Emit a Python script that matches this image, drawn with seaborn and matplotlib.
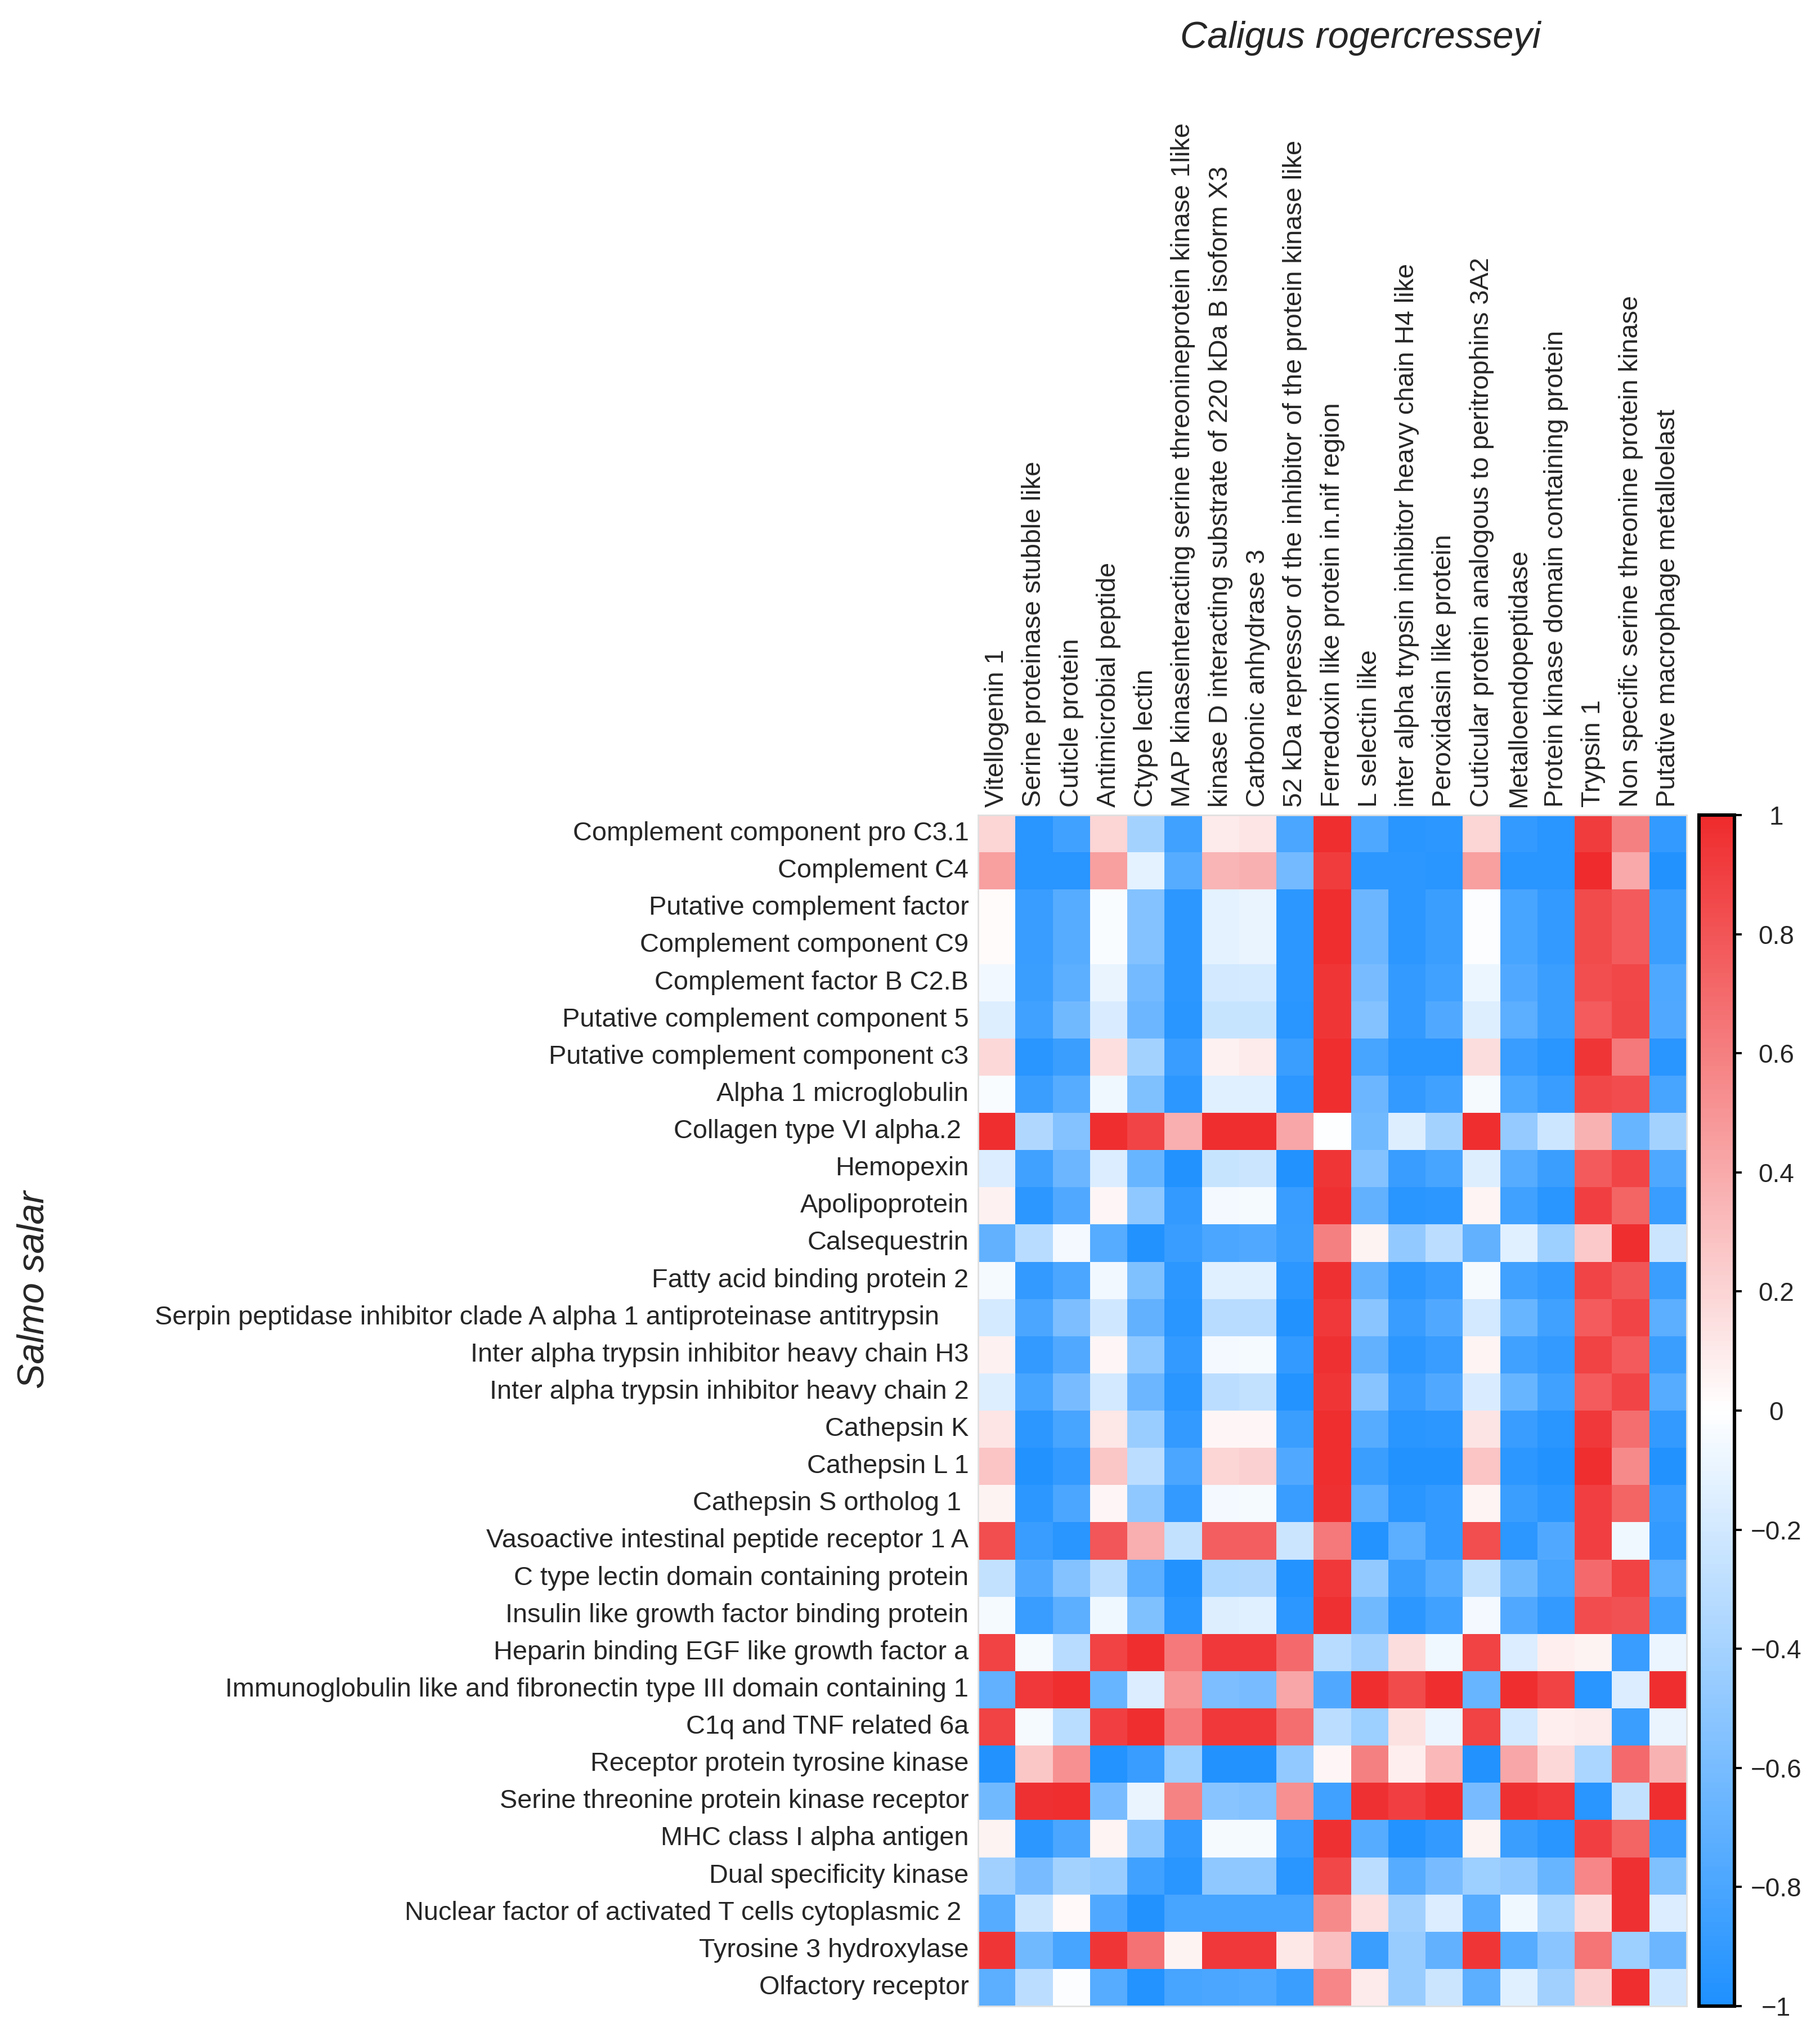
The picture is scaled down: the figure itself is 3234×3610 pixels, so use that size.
import numpy as np
import pandas as pd
import matplotlib
matplotlib.use("Agg")
import matplotlib.pyplot as plt
import seaborn as sns
from matplotlib.colors import LinearSegmentedColormap

# Caligus rogercresseyi transcripts (columns)
lice_genes = [
    "Vitellogenin 1",
    "Serine proteinase stubble like",
    "Cuticle protein",
    "Antimicrobial peptide",
    "Ctype lectin",
    "MAP kinaseinteracting serine threonineprotein kinase 1like",
    "kinase D interacting substrate of 220 kDa B isoform X3",
    "Carbonic anhydrase 3",
    "52 kDa repressor of the inhibitor of the protein kinase like",
    "Ferredoxin like protein in.nif region",
    "L selectin like",
    "inter alpha trypsin inhibitor heavy chain H4 like",
    "Peroxidasin like protein",
    "Cuticular protein analogous to peritrophins 3A2",
    "Metalloendopeptidase",
    "Protein kinase domain containing protein",
    "Trypsin 1",
    "Non specific serine threonine protein kinase",
    "Putative macrophage metalloelast",
]

# Salmo salar transcripts (rows)
salmon_genes = [
    "Complement component pro C3.1",
    "Complement C4",
    "Putative complement factor",
    "Complement component C9",
    "Complement factor B C2.B",
    "Putative complement component 5",
    "Putative complement component c3",
    "Alpha 1 microglobulin",
    "Collagen type VI alpha.2 ",
    "Hemopexin",
    "Apolipoprotein",
    "Calsequestrin",
    "Fatty acid binding protein 2",
    "Serpin peptidase inhibitor clade A alpha 1 antiproteinase antitrypsin    ",
    "Inter alpha trypsin inhibitor heavy chain H3",
    "Inter alpha trypsin inhibitor heavy chain 2",
    "Cathepsin K",
    "Cathepsin L 1",
    "Cathepsin S ortholog 1 ",
    "Vasoactive intestinal peptide receptor 1 A",
    "C type lectin domain containing protein",
    "Insulin like growth factor binding protein",
    "Heparin binding EGF like growth factor a",
    "Immunoglobulin like and fibronectin type III domain containing 1",
    "C1q and TNF related 6a",
    "Receptor protein tyrosine kinase",
    "Serine threonine protein kinase receptor",
    "MHC class I alpha antigen",
    "Dual specificity kinase",
    "Nuclear factor of activated T cells cytoplasmic 2 ",
    "Tyrosine 3 hydroxylase",
    "Olfactory receptor",
]

# correlation values, one list per salmon gene
r_c3_1 = [0.20, -0.95, -0.85, 0.20, -0.40, -0.85, 0.10, 0.12, -0.80, 0.98, -0.78, -0.95, -0.93, 0.20, -0.90, -0.95, 0.92, 0.60, -0.90]
r_c4 = [0.45, -0.95, -0.95, 0.45, -0.12, -0.75, 0.35, 0.37, -0.62, 0.92, -0.93, -0.93, -0.95, 0.45, -0.95, -0.95, 1.00, 0.40, -0.98]
r_pcf = [0.02, -0.88, -0.75, -0.03, -0.55, -0.93, -0.12, -0.10, -0.93, 0.98, -0.65, -0.93, -0.87, -0.02, -0.82, -0.90, 0.85, 0.78, -0.87]
r_c9 = [0.02, -0.88, -0.75, -0.03, -0.55, -0.93, -0.12, -0.10, -0.93, 0.98, -0.65, -0.93, -0.87, -0.02, -0.82, -0.90, 0.85, 0.78, -0.87]
r_cfb = [-0.06, -0.87, -0.72, -0.10, -0.62, -0.93, -0.20, -0.19, -0.93, 0.95, -0.60, -0.90, -0.85, -0.08, -0.77, -0.87, 0.83, 0.86, -0.78]
r_pc5 = [-0.15, -0.85, -0.63, -0.17, -0.65, -0.95, -0.25, -0.25, -0.95, 0.95, -0.55, -0.90, -0.77, -0.15, -0.72, -0.87, 0.77, 0.87, -0.77]
r_pc3 = [0.18, -0.95, -0.87, 0.15, -0.40, -0.88, 0.07, 0.10, -0.87, 0.98, -0.82, -0.95, -0.95, 0.16, -0.88, -0.95, 0.95, 0.63, -0.95]
r_a1m = [-0.03, -0.87, -0.75, -0.07, -0.57, -0.93, -0.14, -0.14, -0.93, 0.98, -0.65, -0.90, -0.85, -0.04, -0.79, -0.88, 0.86, 0.84, -0.82]
r_col6 = [0.98, -0.35, -0.55, 0.98, 0.88, 0.38, 0.98, 0.98, 0.42, -0.01, -0.63, -0.15, -0.40, 0.98, -0.47, -0.22, 0.36, -0.67, -0.40]
r_hpx = [-0.16, -0.85, -0.65, -0.16, -0.67, -0.98, -0.25, -0.23, -0.98, 0.95, -0.55, -0.88, -0.82, -0.15, -0.75, -0.87, 0.78, 0.88, -0.78]
r_apo = [0.07, -0.93, -0.77, 0.04, -0.50, -0.90, -0.05, -0.04, -0.88, 0.97, -0.70, -0.95, -0.93, 0.05, -0.85, -0.95, 0.90, 0.73, -0.88]
r_casq = [-0.70, -0.32, -0.05, -0.75, -0.98, -0.88, -0.80, -0.77, -0.87, 0.60, 0.06, -0.48, -0.30, -0.70, -0.14, -0.43, 0.25, 0.98, -0.23]
r_fabp2 = [-0.04, -0.90, -0.80, -0.06, -0.57, -0.93, -0.14, -0.14, -0.93, 0.97, -0.70, -0.93, -0.88, -0.04, -0.85, -0.90, 0.88, 0.80, -0.87]
r_serpin = [-0.19, -0.80, -0.58, -0.21, -0.70, -0.95, -0.32, -0.32, -0.98, 0.93, -0.52, -0.88, -0.77, -0.20, -0.67, -0.85, 0.77, 0.88, -0.72]
r_itih3 = [0.07, -0.90, -0.77, 0.04, -0.50, -0.90, -0.05, -0.04, -0.90, 0.97, -0.70, -0.93, -0.88, 0.05, -0.85, -0.90, 0.89, 0.78, -0.87]
r_itih2 = [-0.15, -0.82, -0.60, -0.20, -0.65, -0.95, -0.30, -0.27, -0.97, 0.95, -0.53, -0.88, -0.77, -0.17, -0.67, -0.85, 0.77, 0.88, -0.75]
r_ctsk = [0.12, -0.93, -0.82, 0.11, -0.45, -0.90, 0.04, 0.04, -0.87, 0.98, -0.75, -0.95, -0.93, 0.13, -0.88, -0.95, 0.93, 0.68, -0.90]
r_ctsl1 = [0.28, -0.98, -0.90, 0.27, -0.30, -0.80, 0.20, 0.22, -0.77, 0.98, -0.87, -0.98, -0.98, 0.28, -0.93, -0.98, 0.98, 0.55, -0.98]
r_ctss = [0.06, -0.93, -0.80, 0.04, -0.50, -0.90, -0.05, -0.04, -0.88, 0.97, -0.72, -0.95, -0.90, 0.05, -0.87, -0.93, 0.90, 0.73, -0.88]
r_vipr = [0.83, -0.88, -0.95, 0.79, 0.38, -0.27, 0.75, 0.75, -0.23, 0.63, -0.97, -0.72, -0.90, 0.83, -0.93, -0.77, 0.90, -0.07, -0.90]
r_clec = [-0.27, -0.77, -0.55, -0.30, -0.72, -0.98, -0.36, -0.35, -0.97, 0.93, -0.48, -0.87, -0.75, -0.27, -0.63, -0.82, 0.70, 0.89, -0.72]
r_igfbp = [-0.04, -0.88, -0.72, -0.07, -0.57, -0.95, -0.15, -0.14, -0.93, 0.97, -0.63, -0.93, -0.85, -0.05, -0.77, -0.90, 0.84, 0.82, -0.85]
r_hbegf = [0.89, -0.04, -0.32, 0.89, 0.98, 0.63, 0.93, 0.93, 0.70, -0.32, -0.42, 0.16, -0.07, 0.89, -0.16, 0.08, 0.06, -0.88, -0.09]
r_ifn3 = [-0.70, 0.93, 0.98, -0.67, -0.16, 0.50, -0.58, -0.60, 0.42, -0.77, 0.98, 0.85, 0.98, -0.67, 0.98, 0.89, -0.95, -0.16, 0.98]
r_c1q = [0.89, -0.04, -0.31, 0.90, 0.98, 0.63, 0.93, 0.93, 0.68, -0.30, -0.43, 0.14, -0.09, 0.89, -0.20, 0.08, 0.10, -0.87, -0.10]
r_rptk = [-0.98, 0.27, 0.52, -0.97, -0.88, -0.43, -0.98, -0.98, -0.48, 0.04, 0.60, 0.08, 0.33, -0.98, 0.42, 0.18, -0.37, 0.70, 0.36]
r_stpkr = [-0.63, 0.97, 0.98, -0.60, -0.10, 0.58, -0.53, -0.55, 0.52, -0.85, 0.97, 0.90, 0.98, -0.60, 0.97, 0.94, -0.95, -0.27, 0.98]
r_mhc = [0.06, -0.93, -0.80, 0.05, -0.50, -0.90, -0.04, -0.04, -0.88, 0.97, -0.75, -0.97, -0.90, 0.06, -0.87, -0.95, 0.90, 0.73, -0.88]
r_dsk = [-0.42, -0.60, -0.40, -0.45, -0.85, -0.95, -0.50, -0.50, -0.95, 0.86, -0.30, -0.75, -0.60, -0.43, -0.48, -0.67, 0.57, 0.97, -0.57]
r_nfat = [-0.75, -0.23, 0.03, -0.77, -0.98, -0.82, -0.82, -0.82, -0.82, 0.55, 0.15, -0.42, -0.16, -0.75, -0.07, -0.36, 0.17, 0.97, -0.16]
r_th = [0.95, -0.63, -0.82, 0.95, 0.66, 0.06, 0.93, 0.93, 0.11, 0.30, -0.87, -0.46, -0.70, 0.95, -0.75, -0.52, 0.65, -0.43, -0.65]
r_olf = [-0.72, -0.30, -0.02, -0.75, -0.97, -0.82, -0.80, -0.78, -0.87, 0.57, 0.10, -0.46, -0.23, -0.72, -0.14, -0.42, 0.22, 0.98, -0.21]

rows = [r_c3_1, r_c4, r_pcf, r_c9, r_cfb, r_pc5, r_pc3, r_a1m, r_col6, r_hpx,
        r_apo, r_casq, r_fabp2, r_serpin, r_itih3, r_itih2, r_ctsk, r_ctsl1,
        r_ctss, r_vipr, r_clec, r_igfbp, r_hbegf, r_ifn3, r_c1q, r_rptk,
        r_stpkr, r_mhc, r_dsk, r_nfat, r_th, r_olf]
corr = pd.DataFrame(rows, index=salmon_genes, columns=lice_genes)

sns.set_style("white")
plt.rcParams["font.family"] = ["Liberation Sans", "DejaVu Sans"]

cmap = LinearSegmentedColormap.from_list("bwr_custom", ["#1E90FF", "#FFFFFF", "#EF2B2D"])

W, H = 3234, 3610
fig = plt.figure(figsize=(W / 200, H / 200), dpi=200)
ax = fig.add_axes([1738 / W, 1 - 3564 / H, (2997 - 1738) / W, (3564 - 1448) / H])
cax = fig.add_axes([3019 / W, 1 - 3564 / H, 63 / W, (3564 - 1448) / H])

sns.heatmap(corr, cmap=cmap, vmin=-1, vmax=1, ax=ax, cbar_ax=cax,
            xticklabels=True, yticklabels=True)

ax.xaxis.tick_top()
ax.set_xticklabels(ax.get_xticklabels(), rotation=90, fontsize=16.9)
ax.set_yticklabels(ax.get_yticklabels(), rotation=0, fontsize=16.9)
ax.tick_params(axis="both", length=0)
ax.tick_params(axis="x", pad=5)
ax.tick_params(axis="y", pad=6)
ax.set_xlabel("")
ax.set_ylabel("")
for s in ax.spines.values():
    s.set_visible(True)
    s.set_color("#e0e0e0")
    s.set_linewidth(1.0)

# colorbar styling
cbar = ax.collections[0].colorbar
cbar.set_ticks([1, 0.8, 0.6, 0.4, 0.2, 0, -0.2, -0.4, -0.6, -0.8, -1])
cbar.set_ticklabels(["1", "0.8", "0.6", "0.4", "0.2", "0", "\u22120.2", "\u22120.4",
                     "\u22120.6", "\u22120.8", "\u22121"])
cbar.outline.set_edgecolor("black")
cbar.outline.set_linewidth(2.2)
cax.tick_params(length=4.7, width=1.4, color="black", labelsize=16.5, pad=22)
for lab in cax.get_yticklabels():
    lab.set_horizontalalignment("center")

fig.text(2417 / W, 1 - 85 / H, "Caligus rogercresseyi", style="italic", fontsize=24,
         ha="center", va="baseline")
fig.text(60 / W, 1 - 2291 / H, "Salmo salar", style="italic", fontsize=24,
         rotation=90, ha="center", va="center")

fig.savefig("out.png", dpi=200)
